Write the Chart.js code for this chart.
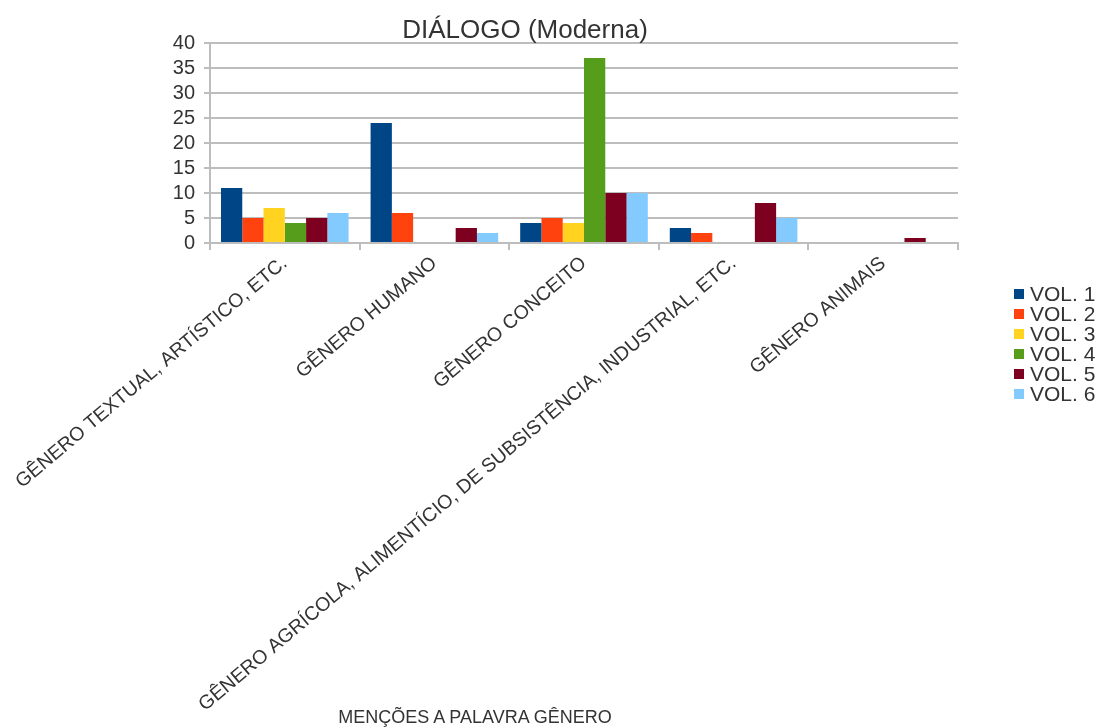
<!DOCTYPE html>
<html>
<head>
<meta charset="utf-8">
<script src="https://cdn.jsdelivr.net/npm/chart.js@4.4.1/dist/chart.umd.min.js"></script>
<style>
  html, body { margin: 0; padding: 0; background: #fff; }
  #wrap { position: relative; width: 1105px; height: 727px; }
  #chart { position: absolute; left: 0; top: 0; }
  #title { position: absolute; left: 525px; top: 14px; transform: translateX(-50%); font: 26px "Liberation Sans", Arial, sans-serif; color: #333; white-space: nowrap; }
  #legend { position: absolute; left: 1014px; top: 284px; font: 21px "Liberation Sans", Arial, sans-serif; color: #333; }
  #legend .row { height: 20px; line-height: 20px; display: flex; align-items: center; white-space: nowrap; }
  #legend .box { width: 10px; height: 10px; margin-right: 6px; }
  #xtitle { position: absolute; left: 475px; top: 707px; transform: translateX(-50%); font: 18px "Liberation Sans", Arial, sans-serif; color: #333; white-space: nowrap; }
</style>
</head>
<body>
<div id="wrap">
  <canvas id="chart" width="1105" height="727"></canvas>
  <div id="title"></div>
  <div id="legend"></div>
  <div id="xtitle"></div>
</div>
<script>
const chartTitle = "DIÁLOGO (Moderna)";
const axisTitle = "MENÇÕES A PALAVRA GÊNERO";
const categories = [
  "GÊNERO TEXTUAL, ARTÍSTICO, ETC.",
  "GÊNERO HUMANO",
  "GÊNERO CONCEITO",
  "GÊNERO AGRÍCOLA, ALIMENTÍCIO, DE SUBSISTÊNCIA, INDUSTRIAL, ETC.",
  "GÊNERO ANIMAIS"
];
const seriesNames = ["VOL. 1", "VOL. 2", "VOL. 3", "VOL. 4", "VOL. 5", "VOL. 6"];
const vol1 = [11, 24, 4, 3, 0];
const vol2 = [5, 6, 5, 2, 0];
const vol3 = [7, 0, 4, 0, 0];
const vol4 = [4, 0, 37, 0, 0];
const vol5 = [5, 3, 10, 8, 1];
const vol6 = [6, 2, 10, 5, 0];
const seriesColors = ["#004586", "#ff420e", "#ffd320", "#579d1c", "#7e0021", "#83caff"];
const yMax = 40;
const yStep = 5;

const gridColor = "#bdbdbd";
const textColor = "#333333";
const font = "'Liberation Sans', Arial, sans-serif";

const seriesValues = [vol1, vol2, vol3, vol4, vol5, vol6];
const datasets = seriesNames.map((name, i) => ({
  label: name,
  data: seriesValues[i],
  backgroundColor: seriesColors[i],
  borderWidth: 0,
  categoryPercentage: 0.853,
  barPercentage: 1
}));

const ctx = document.getElementById("chart").getContext("2d");
new Chart(ctx, {
  type: "bar",
  data: { labels: categories, datasets },
  options: {
    responsive: false,
    animation: false,
    layout: { padding: { left: 0, right: 147, top: 43, bottom: 0 } },
    scales: {
      x: {
        // the rotated labels need more than half the canvas height
        afterFit: (scale) => {
          scale.height = 484;
          scale.paddingLeft = 0;
        },
        border: { display: true, color: gridColor, width: 2 },
        grid: {
          offset: true,
          drawOnChartArea: true,
          lineWidth: 2,
          color: (c) => (c.index === categories.length ? gridColor : "transparent"),
          tickColor: gridColor,
          tickLength: 7
        },
        ticks: {
          autoSkip: false,
          minRotation: 40,
          maxRotation: 40,
          color: textColor,
          padding: 2,
          font: { family: font, size: 19.5 }
        }
      },
      y: {
        min: 0,
        max: yMax,
        afterFit: (scale) => { scale.width = 210; },
        border: { display: true, color: gridColor, width: 2 },
        grid: { color: gridColor, lineWidth: 2, tickLength: 6 },
        ticks: {
          stepSize: yStep,
          autoSkip: false,
          color: textColor,
          padding: 9,
          font: { family: font, size: 20 }
        }
      }
    },
    plugins: {
      legend: { display: false },
      tooltip: { enabled: false },
      title: { display: false }
    }
  }
});

document.getElementById("title").textContent = chartTitle;
const legend = document.getElementById("legend");
seriesNames.forEach((name, i) => {
  const row = document.createElement("div");
  row.className = "row";
  const box = document.createElement("span");
  box.className = "box";
  box.style.background = seriesColors[i];
  row.appendChild(box);
  row.appendChild(document.createTextNode(name));
  legend.appendChild(row);
});
document.getElementById("xtitle").textContent = axisTitle;
</script>
</body>
</html>
